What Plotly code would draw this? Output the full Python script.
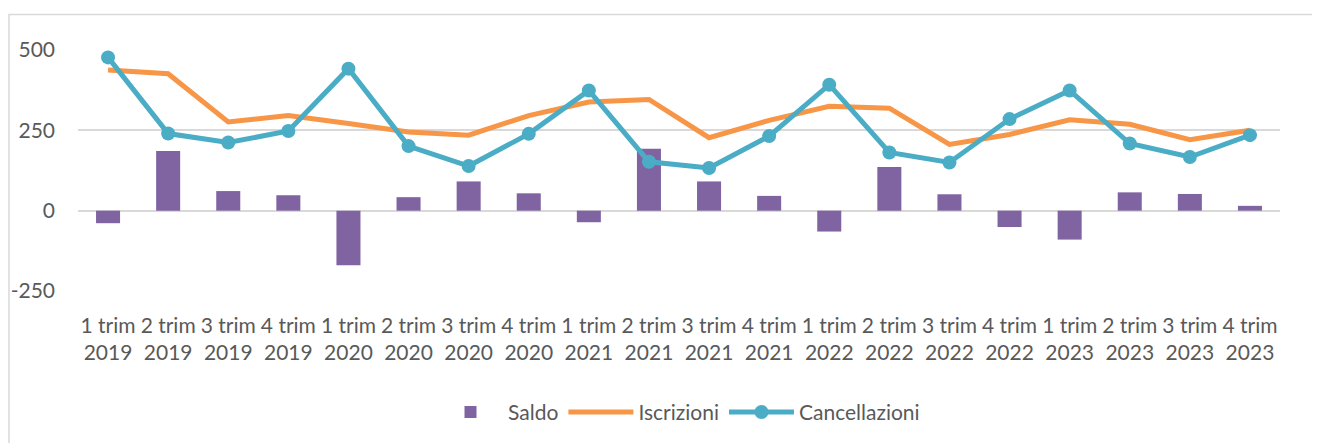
import plotly.graph_objects as go

quarters = ["1 trim", "2 trim", "3 trim", "4 trim"]
years = ["2019", "2020", "2021", "2022", "2023"]
categories = [f"{q}<br>{y}" for y in years for q in quarters]

saldo = [-39, 186, 61, 48, -170, 42, 91, 54, -36, 193,
         91, 46, -65, 136, 51, -51, -90, 57, 52, 15]
iscrizioni = [438, 426, 276, 296, 271, 245, 235, 296, 338, 346,
              227, 281, 325, 319, 206, 237, 283, 269, 221, 250]
cancellazioni = [477, 240, 212, 248, 442, 201, 139, 239, 374, 152,
                 133, 232, 392, 181, 150, 285, 374, 209, 167, 235]

y_ticks = [-250, 0, 250, 500]
y_ticktext = ["-250", "0", "250", "500"]

font_family = "Lato, Open Sans, sans-serif"
text_color = "#595959"
grid_color = "#D9D9D9"
fs = 21

fig = go.Figure()
fig.add_trace(go.Bar(x=categories, y=saldo, name="Saldo",
                     marker=dict(color="#8064A2", line=dict(width=0)), width=0.4))
fig.add_trace(go.Scatter(x=categories, y=iscrizioni, name="Iscrizioni", mode="lines",
                         line=dict(color="#F79646", width=5)))
fig.add_trace(go.Scatter(x=categories, y=cancellazioni, name="Cancellazioni", mode="lines+markers",
                         line=dict(color="#4BACC6", width=5),
                         marker=dict(color="#4BACC6", size=14)))

# page has an 8px body margin; figure sized to fit the viewport
OFF = 8
W, H = 1320 - OFF, 443 - OFF
plot_left, plot_right = 78 - OFF, 1280 - OFF
plot_top, plot_bottom = 49.5 - OFF, 291.3 - OFF
L, R = plot_left, W - plot_right
T, B = plot_top, H - plot_bottom
pw = plot_right - plot_left
ph = plot_bottom - plot_top

fig.update_layout(
    width=W, height=H,
    margin=dict(l=L, r=R, t=T, b=B, autoexpand=False),
    paper_bgcolor="white", plot_bgcolor="white",
    font=dict(family=font_family, size=fs, color=text_color),
    showlegend=True,
    legend=dict(orientation="h", x=0.5, xanchor="center", y=(plot_bottom - (413 - OFF)) / ph,
                yanchor="middle", font=dict(size=fs, color=text_color),
                traceorder="normal", itemwidth=65),
    xaxis=dict(range=[-0.5, len(categories) - 0.5], showgrid=False, showline=False,
               ticks="", tickangle=0, automargin=False,
               tickfont=dict(size=fs, color=text_color), ticklabelstandoff=20),
    yaxis=dict(range=[-250, 500], tickvals=y_ticks, ticktext=y_ticktext, automargin=False,
               showgrid=True, gridcolor=grid_color, gridwidth=1.5,
               zeroline=True, zerolinecolor=grid_color, zerolinewidth=1.5,
               showline=False, ticks="", tickfont=dict(size=fs, color=text_color),
               ticklabelstandoff=22),
    shapes=[dict(type="rect", xref="paper", yref="paper",
                 x0=(1 - plot_left) / pw, x1=(1318 - OFF - plot_left) / pw,
                 y0=(plot_bottom - (H + 5)) / ph, y1=(plot_bottom - (14 - OFF)) / ph,
                 line=dict(color=grid_color, width=1.5), layer="below")],
)

fig.write_html("out.html")
